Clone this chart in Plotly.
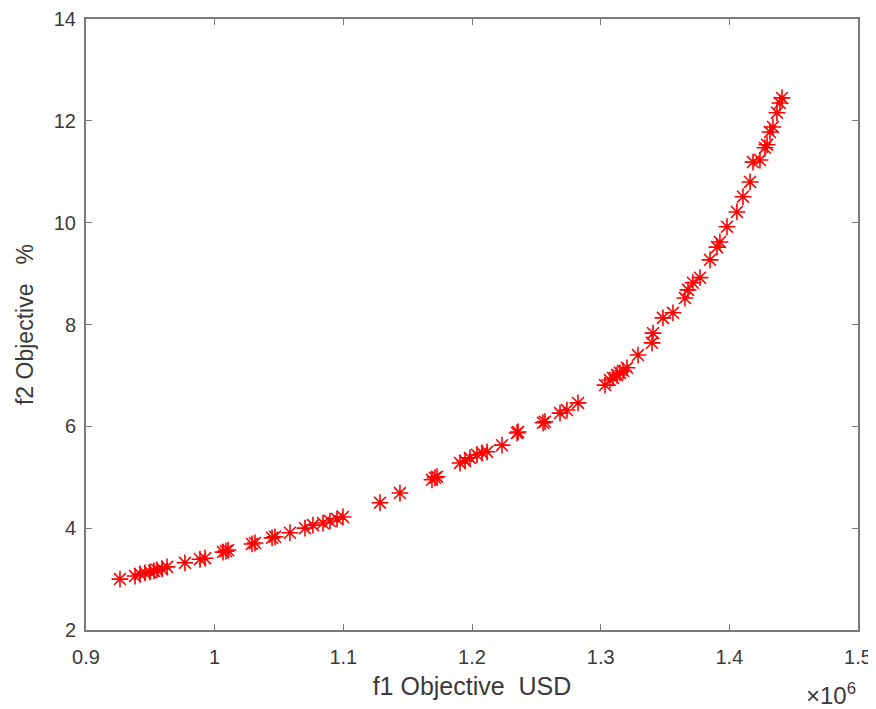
import plotly.graph_objects as go

# f1 objective (USD, in units of 1e6) and f2 objective (%)
f1_musd = [0.9264, 0.9381, 0.9420, 0.9459, 0.9497, 0.9528, 0.9552, 0.9591, 0.9630, 0.9769,
           0.9886, 0.9925, 1.0065, 1.0088, 1.0104, 1.0290, 1.0313, 1.0446, 1.0469, 1.0585,
           1.0702, 1.0764, 1.0842, 1.0896, 1.0951, 1.0997, 1.1285, 1.1440, 1.1689, 1.1712,
           1.1728, 1.1907, 1.1946, 1.1984, 1.2039, 1.2078, 1.2117, 1.2233, 1.2350, 1.2358,
           1.2552, 1.2567, 1.2684, 1.2738, 1.2824, 1.3034, 1.3072, 1.3096, 1.3127, 1.3150,
           1.3174, 1.3205, 1.3290, 1.3399, 1.3407, 1.3484, 1.3562, 1.3655, 1.3679, 1.3717,
           1.3772, 1.3850, 1.3904, 1.3927, 1.3982, 1.4059, 1.4106, 1.4161, 1.4184, 1.4238,
           1.4277, 1.4293, 1.4316, 1.4339, 1.4370, 1.4393, 1.4409]
f2_pct = [3.00, 3.06, 3.10, 3.12, 3.14, 3.16, 3.18, 3.20, 3.24, 3.32,
          3.39, 3.41, 3.53, 3.55, 3.57, 3.69, 3.71, 3.81, 3.83, 3.91,
          4.00, 4.06, 4.10, 4.14, 4.18, 4.22, 4.50, 4.69, 4.95, 4.99,
          5.01, 5.28, 5.32, 5.38, 5.44, 5.48, 5.50, 5.63, 5.87, 5.89,
          6.07, 6.09, 6.26, 6.32, 6.46, 6.81, 6.91, 6.95, 7.01, 7.05,
          7.09, 7.15, 7.40, 7.64, 7.83, 8.13, 8.23, 8.52, 8.68, 8.82,
          8.92, 9.27, 9.52, 9.62, 9.92, 10.21, 10.51, 10.80, 11.19, 11.23,
          11.47, 11.53, 11.78, 11.88, 12.16, 12.35, 12.45]

x_tickvals = [0.9, 1.0, 1.1, 1.2, 1.3, 1.4, 1.5]
x_ticktext = ["0.9", "1", "1.1", "1.2", "1.3", "1.4", "1.5"]
y_tickvals = [2, 4, 6, 8, 10, 12, 14]

axis_col = "#7a7a7a"
text_col = "#3a3a3a"
font_fam = "Liberation Sans, Arial, Helvetica, sans-serif"

fig = go.Figure()
fig.add_trace(go.Scatter(
    x=f1_musd, y=f2_pct, mode="markers",
    marker=dict(symbol="asterisk-open", size=14, color="#ff0000",
                line=dict(color="#ff0000", width=1.6)),
    showlegend=False,
))

common = dict(showgrid=False, zeroline=False, showline=True, linecolor=axis_col,
              linewidth=2, mirror="ticks", ticks="inside", ticklen=6,
              tickcolor=axis_col, tickwidth=1, automargin=False,
              tickfont=dict(family=font_fam, size=20, color=text_col))

fig.update_xaxes(range=[0.9, 1.5], tickvals=x_tickvals, ticktext=x_ticktext,
                 ticklabelstandoff=8,
                 title=dict(text="f1 Objective\u00a0\u00a0USD", standoff=10,
                            font=dict(family=font_fam, size=25, color=text_col)),
                 **common)
fig.update_yaxes(range=[2, 14], tickvals=y_tickvals, ticklabelstandoff=4,
                 title=dict(text="f2 Objective\u00a0\u00a0\u00a0%", standoff=14,
                            font=dict(family=font_fam, size=23, color=text_col)),
                 **common)

fig.add_annotation(text="×10<sup>6</sup>", xref="paper", yref="paper",
                   x=1.0, y=-0.105, xanchor="right", yanchor="middle", showarrow=False,
                   font=dict(family=font_fam, size=24, color=text_col))

# page body adds an 8px offset, so the figure is sized to fit the 876x709 window
fig.update_layout(width=868, height=701, plot_bgcolor="white", paper_bgcolor="white",
                  margin=dict(l=78, r=18, t=11, b=79))

fig.write_html("out.html")
